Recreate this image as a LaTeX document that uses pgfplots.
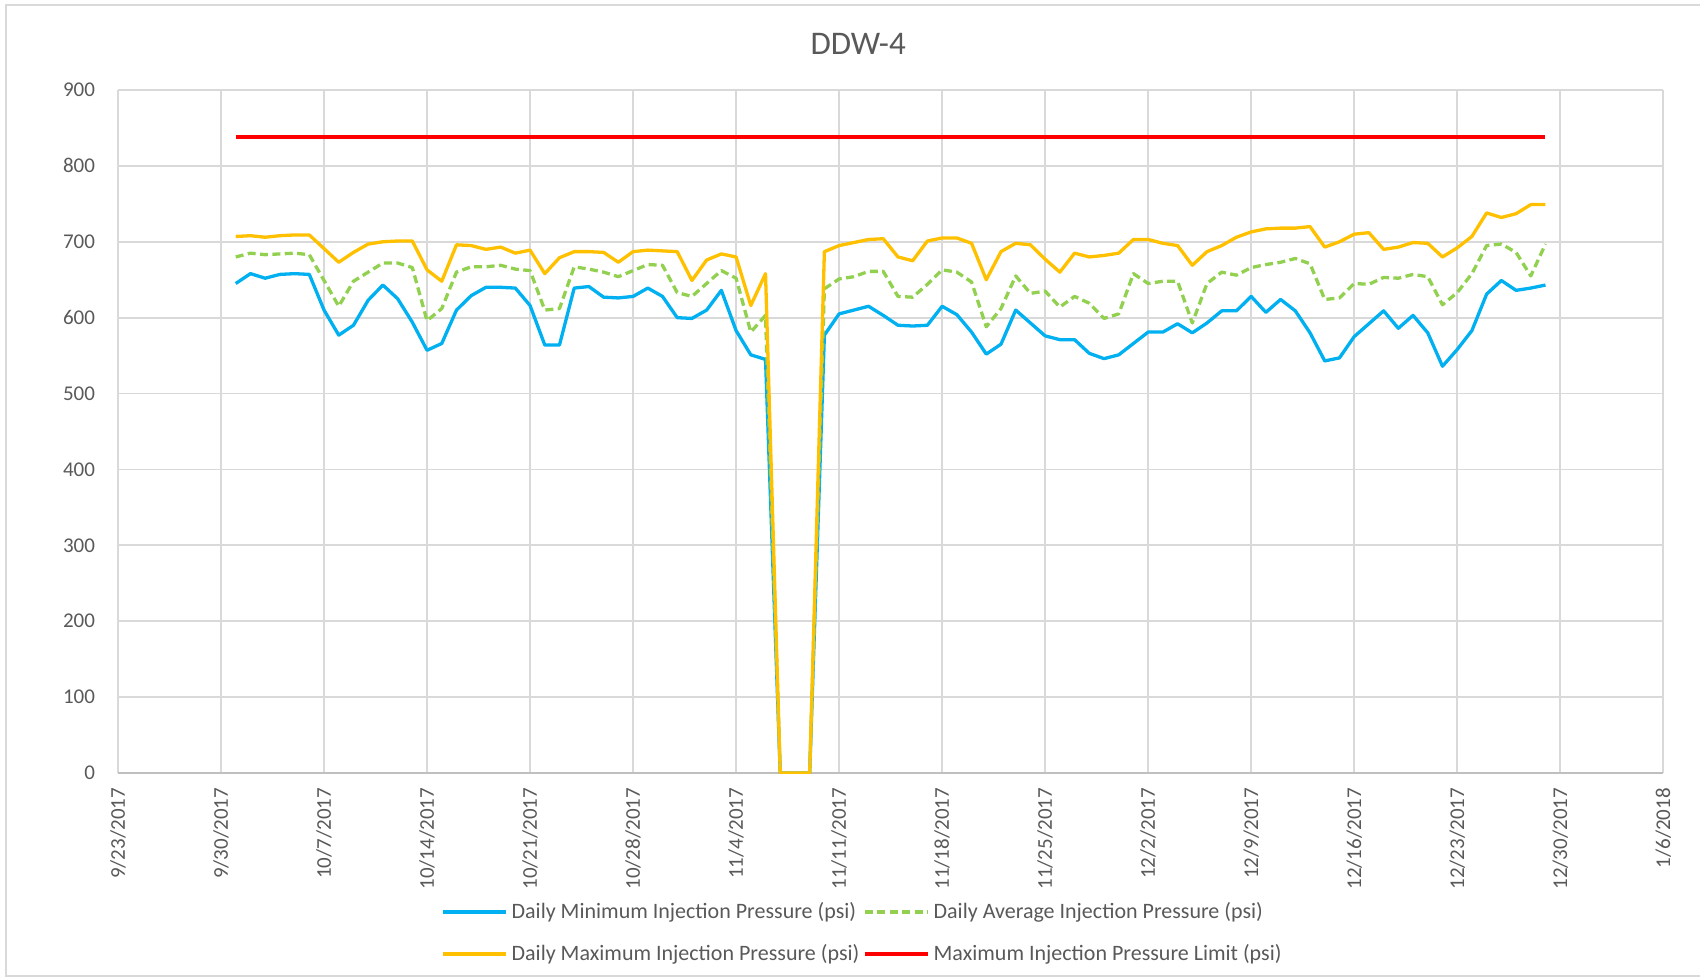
\documentclass[border=0pt]{standalone}
\usepackage{fontspec}
\setmainfont{Carlito}
\usepackage{pgfplots}
\pgfplotsset{compat=1.18}
\usepackage{pgfplotstable}

\definecolor{minblue}{HTML}{00B0F0}
\definecolor{avggreen}{HTML}{92D050}
\definecolor{maxorange}{HTML}{FFC000}
\definecolor{limred}{HTML}{FF0000}
\definecolor{gridgray}{HTML}{D9D9D9}
\definecolor{axisgray}{HTML}{BFBFBF}
\definecolor{txtgray}{HTML}{595959}

% day 0 = 9/23/2017
\pgfplotstableread{
day min avg max
8  645 680 707
9  658 685 708
10 652 683 706
11 657 684 708
12 658 685 709
13 657 683 709
14 610 649 691
15 577 615 673
16 590 648 686
17 623 660 697
18 643 672 700
19 625 672 701
20 594 666 701
21 557 596 663
22 566 612 648
23 610 660 696
24 629 667 695
25 640 667 690
26 640 669 693
27 639 664 685
28 616 662 689
29 564 610 658
30 564 612 679
31 639 667 687
32 641 664 687
33 627 660 686
34 626 654 673
35 628 662 687
36 639 670 689
37 628 669 688
38 600 633 687
39 599 628 649
40 610 645 676
41 636 662 684
42 583 652 680
43 551 581 616
44 545 603 658
45 0 0 0
46 0 0 0
47 0 0 0
48 577 638 687
49 605 651 695
50 610 654 699
51 615 661 703
52 603 661 704
53 590 628 680
54 589 627 675
55 590 644 701
56 615 663 705
57 604 660 705
58 581 647 698
59 552 588 650
60 565 612 687
61 610 655 698
62 593 632 696
63 576 635 677
64 571 614 660
65 571 628 685
66 553 619 680
67 546 599 682
68 551 605 685
69 566 658 703
70 581 645 703
71 581 648 698
72 592 648 695
73 580 593 669
74 593 645 687
75 609 660 695
76 609 656 706
77 628 666 713
78 607 670 717
79 624 673 718
80 609 678 718
81 580 671 720
82 543 624 693
83 547 626 700
84 575 645 710
85 592 644 712
86 609 653 690
87 586 652 693
88 603 657 699
89 580 654 698
90 536 617 680
91 558 633 692
92 583 658 707
93 631 695 738
94 649 697 732
95 636 686 737
96 639 655 749
97 643 697 749
}\ddwdata

\begin{document}
\begin{tikzpicture}
\useasboundingbox (-59pt,-103pt) rectangle (791pt,386.5pt);
\draw[gridgray, line width=0.7pt] (795pt,384pt) -- (-56pt,384pt) -- (-56pt,-101.5pt) -- (795pt,-101.5pt);
\begin{axis}[
  at={(0,0)}, anchor=south west,
  scale only axis, width=772.6pt, height=341.5pt,
  xmin=0, xmax=105, ymin=0, ymax=900,
  xtick={0,7,...,105},
  xticklabels={9/23/2017,9/30/2017,10/7/2017,10/14/2017,10/21/2017,10/28/2017,11/4/2017,11/11/2017,11/18/2017,11/25/2017,12/2/2017,12/9/2017,12/16/2017,12/23/2017,12/30/2017,1/6/2018},
  ytick={0,100,...,900},
  grid=major, major grid style={gridgray, line width=0.9pt},
  axis x line*=bottom, axis y line*=left,
  x axis line style={draw=axisgray, line width=1pt, -},
  y axis line style={draw=none},
  major tick length=0pt,
  /pgf/number format/assume math mode=true,
  xticklabel style={rotate=90, anchor=east, font=\fontsize{10.5}{12}\selectfont, text=txtgray},
  yticklabel style={font=\fontsize{10.5}{12}\selectfont, text=txtgray},
  xticklabel shift=4pt, yticklabel shift=8pt,
  title={DDW-4},
  title style={at={(0.479,1.050)}, anchor=center, yshift=0pt, font=\fontsize{16.5}{19}\selectfont, text=txtgray},
  legend columns=2,
  legend cell align=left,
  legend style={draw=none, fill=none, inner sep=0pt, at={(0.209,-0.183)}, anchor=north west,
    font=\fontsize{11}{13}\selectfont, text=txtgray,
    /tikz/every even column/.append style={column sep=0pt}, /tikz/row sep=7.5pt},
  legend image code/.code={\draw[#1] (0pt,0pt) -- (31.5pt,0pt);},
]
\addplot[minblue, line width=1.65pt, line join=round] table[x=day, y=min] {\ddwdata};
\addplot[avggreen, line width=1.65pt, line join=round, dash pattern=on 4pt off 2.2pt] table[x=day, y=avg] {\ddwdata};
\addplot[maxorange, line width=1.65pt, line join=round] table[x=day, y=max] {\ddwdata};
\addplot[limred, line width=1.65pt] coordinates {(8,838) (97,838)};
\addlegendentry{Daily Minimum Injection Pressure (psi)}
\addlegendentry{Daily Average Injection Pressure (psi)}
\addlegendentry{Daily Maximum Injection Pressure (psi)}
\addlegendentry{Maximum Injection Pressure Limit (psi)}
\end{axis}
\end{tikzpicture}
\end{document}
